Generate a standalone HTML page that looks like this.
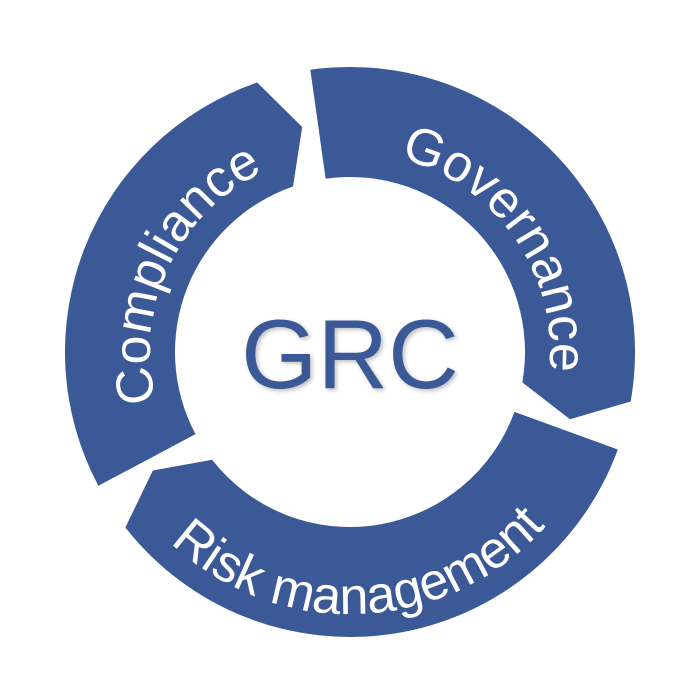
<!DOCTYPE html>
<html><head><meta charset="utf-8"><style>
html,body{margin:0;padding:0;background:#fff;width:700px;height:700px;overflow:hidden}
text{font-family:"Liberation Sans",sans-serif}
</style></head><body>
<svg id="svg" width="700" height="700" viewBox="0 0 700 700">
<defs>
<path id="p-gov" d="" />
<path id="p-risk" d="" />
<path id="p-comp" d="" />
<filter id="sh" x="-10%" y="-10%" width="120%" height="120%"><feDropShadow dx="2" dy="2" stdDeviation="2" flood-color="#000" flood-opacity="0.25"/></filter>
</defs>
<g id="segs"></g>
<text x="350" y="388" text-anchor="middle" font-size="98" fill="#3b5897" filter="url(#sh)">GRC</text>
<text font-size="52" fill="#fff"><textPath href="#p-gov" startOffset="50%" text-anchor="middle">Governance</textPath></text>
<text font-size="52" fill="#fff"><textPath href="#p-risk" startOffset="50%" text-anchor="middle">Risk management</textPath></text>
<text font-size="52" fill="#fff"><textPath href="#p-comp" startOffset="50%" text-anchor="middle">Compliance</textPath></text>
</svg>
<script>
const segNames=['governance-segment','risk-management-segment','compliance-segment'];
const segTail=[-8,110,242];
const segHead=[100,232,341];
const cx=350,cy=352,R=285,r=175,tip=7;
function pt(a,rad){const t=(a-90)*Math.PI/180;return [cx+rad*Math.cos(t),cy+rad*Math.sin(t)];}
const g=document.getElementById('segs');
for(let i=0;i<3;i++){
 const a0=segTail[i],a1=segHead[i],m=(R+r)/2;
 const o0=pt(a0,R),o1=pt(a1,R),i1=pt(a1,r),i0=pt(a0,r),tp=pt(a1+tip,m);
 const d=`M${o0} A${R},${R} 0 0 1 ${o1} L${tp} L${i1} A${r},${r} 0 0 0 ${i0} Z`;
 const p=document.createElementNS('http://www.w3.org/2000/svg','path');
 p.setAttribute('d',d);p.setAttribute('fill','#3b5897');
 
 
 g.appendChild(p);
}
function arc(a0,a1,rad,sweep){const s=pt(a0,rad),e=pt(a1,rad);return `M${s} A${rad},${rad} 0 0 ${sweep} ${e}`;}
document.getElementById('p-gov').setAttribute('d',arc(0,110,200,1));
document.getElementById('p-comp').setAttribute('d',arc(240,350,200,1));
document.getElementById('p-risk').setAttribute('d',arc(245,110,262,0));
</script>
</body></html>
